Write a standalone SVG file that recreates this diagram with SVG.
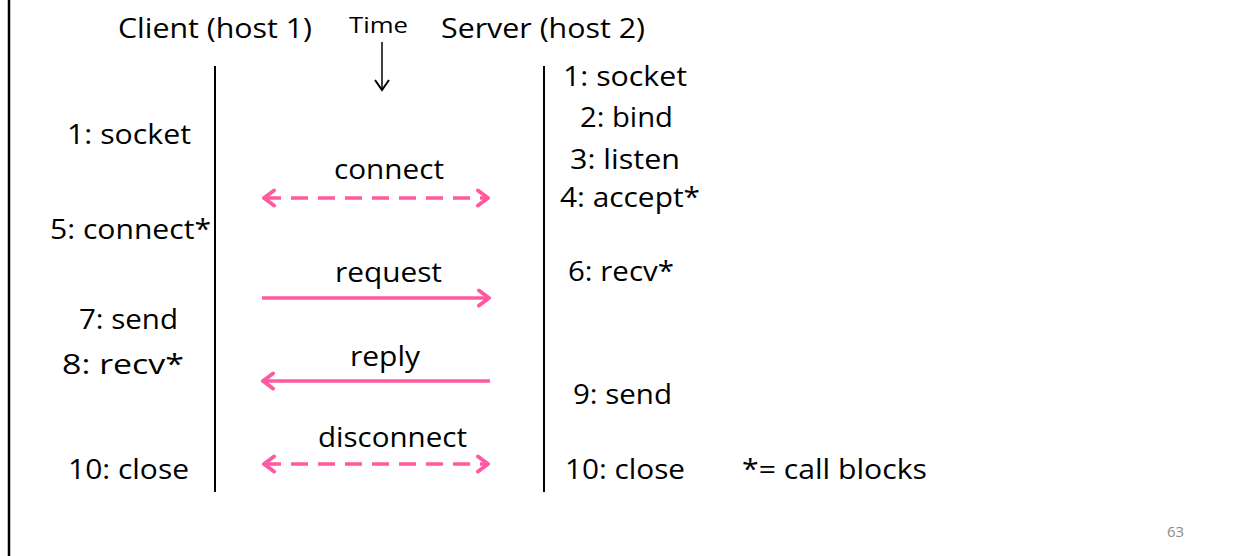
<svg xmlns="http://www.w3.org/2000/svg" width="1245" height="556" viewBox="0 0 1245 556">
<style>
text{font-family:"Open Sans","Liberation Sans",sans-serif;fill:#000}
.t{font-size:27.5px}
.s{font-size:22px}
.pg{font-size:15px;fill:#8c8c8c}
.tl{stroke:#000;stroke-width:2;fill:none}
.pk{stroke:#ff5aa0;stroke-width:3.5;fill:none}
.dash{stroke-dasharray:17 10}
</style>
<defs>
<marker id="ah" viewBox="-13 -10 15 20" markerWidth="15" markerHeight="20" refX="0" refY="0" orient="auto-start-reverse" markerUnits="userSpaceOnUse">
<path d="M-10,-7.5 L0,0 L-10,7.5" fill="none" stroke="#ff5aa0" stroke-width="4" stroke-linecap="round" stroke-linejoin="round"/>
</marker>
<marker id="ahk" viewBox="-12 -10 14 20" markerWidth="14" markerHeight="20" refX="0" refY="0" orient="auto" markerUnits="userSpaceOnUse">
<path d="M-10,-7 L0,0 L-10,7" fill="none" stroke="#000" stroke-width="2"/>
</marker>
</defs>
<rect width="1245" height="556" fill="#fff"/>
<line x1="9" y1="0" x2="9" y2="556" stroke="#000" stroke-width="2.5"/>
<g id="headers">
<text class="t" x="118" y="38" textLength="194" lengthAdjust="spacingAndGlyphs">Client (host 1)</text>
<text class="s" x="349" y="33" textLength="59" lengthAdjust="spacingAndGlyphs">Time</text>
<text class="t" x="441" y="38" textLength="204" lengthAdjust="spacingAndGlyphs">Server (host 2)</text>
</g>
<g id="client">
<line class="tl" x1="215" y1="66" x2="215" y2="492"/>
<text class="t" x="67" y="144" textLength="124" lengthAdjust="spacingAndGlyphs">1: socket</text>
<text class="t" x="50" y="239" textLength="161" lengthAdjust="spacingAndGlyphs">5: connect*</text>
<text class="t" x="79" y="329" textLength="99" lengthAdjust="spacingAndGlyphs">7: send</text>
<text class="t" x="62" y="374" textLength="122" lengthAdjust="spacingAndGlyphs">8: recv*</text>
<text class="t" x="68" y="479" textLength="121" lengthAdjust="spacingAndGlyphs">10: close</text>
</g>
<g id="server">
<line class="tl" x1="544" y1="66" x2="544" y2="492"/>
<text class="t" x="563" y="86" textLength="124" lengthAdjust="spacingAndGlyphs">1: socket</text>
<text class="t" x="580" y="127" textLength="93" lengthAdjust="spacingAndGlyphs">2: bind</text>
<text class="t" x="570" y="169" textLength="110" lengthAdjust="spacingAndGlyphs">3: listen</text>
<text class="t" x="560" y="207" textLength="140" lengthAdjust="spacingAndGlyphs">4: accept*</text>
<text class="t" x="568" y="281" textLength="106" lengthAdjust="spacingAndGlyphs">6: recv*</text>
<text class="t" x="573" y="404" textLength="99" lengthAdjust="spacingAndGlyphs">9: send</text>
<text class="t" x="565" y="479" textLength="120" lengthAdjust="spacingAndGlyphs">10: close</text>
</g>
<g id="note">
<text class="t" x="742" y="479" textLength="185" lengthAdjust="spacingAndGlyphs">*= call blocks</text>
</g>
<g id="connectors">
<line x1="382" y1="42" x2="382" y2="90" stroke="#000" stroke-width="1.5" marker-end="url(#ahk)"/>
<line class="pk dash" x1="264" y1="198" x2="488" y2="198" marker-start="url(#ah)" marker-end="url(#ah)"/>
<line class="pk" x1="262" y1="298" x2="489" y2="298" marker-end="url(#ah)"/>
<line class="pk" x1="490" y1="381" x2="263" y2="381" marker-end="url(#ah)"/>
<line class="pk dash" x1="264" y1="464" x2="488" y2="464" marker-start="url(#ah)" marker-end="url(#ah)"/>
</g>
<g id="labels">
<text class="t" x="334" y="179" textLength="110" lengthAdjust="spacingAndGlyphs">connect</text>
<text class="t" x="335" y="282" textLength="107" lengthAdjust="spacingAndGlyphs">request</text>
<text class="t" x="350" y="366" textLength="70" lengthAdjust="spacingAndGlyphs">reply</text>
<text class="t" x="318" y="447" textLength="149" lengthAdjust="spacingAndGlyphs">disconnect</text>
</g>
<text class="pg" x="1167" y="537">63</text>
</svg>
